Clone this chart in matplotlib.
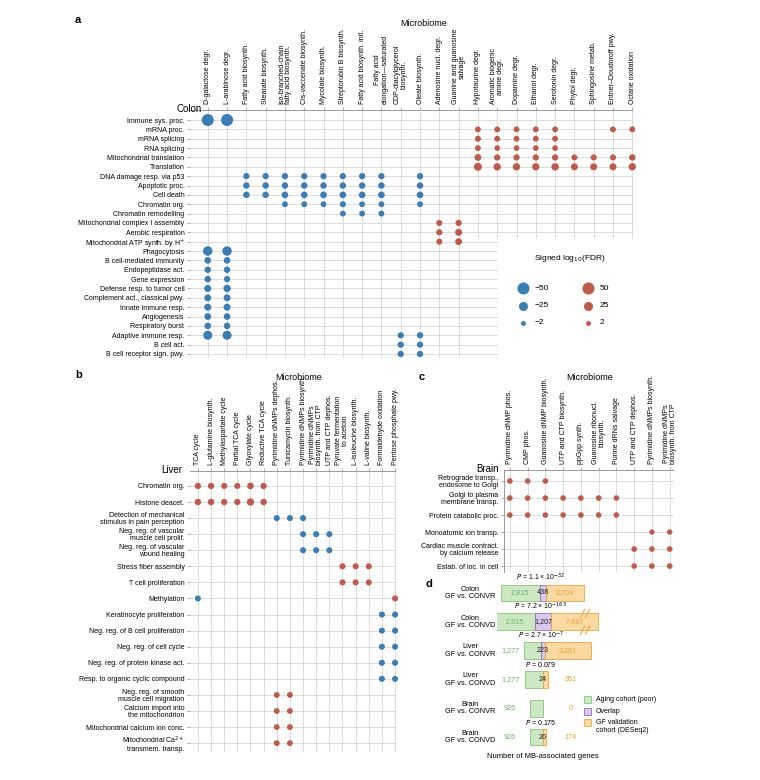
import matplotlib.pyplot as plt
import numpy as np
from matplotlib.patches import Rectangle

plt.rcParams['font.family'] = ['Liberation Sans', 'DejaVu Sans']

W, H = 760, 780
BLUE = '#3b7db5'
RED = '#c05a4b'
GRID = '#d6d6d6'
SPINE = '#8a8a8a'
FS = 5

# ---------------- panel a: colon ----------------
a_cols = ["D-galactose degr.", "L-arabinose degr.", "Fatty acid biosynth.", "Stearate biosynth.",
          "Iso-branched-chain\nfatty acid biosynth.", "Cis-vaccenate biosynth.", "Mycolate biosynth.",
          "Streptorubin B biosynth.", "Fatty acid biosynth. init.", "Fatty acid\nelongation—saturated",
          "CDP-diacylglycerol\nbiosynth.", "Oleate biosynth.", "Adenosine nucl. degr.",
          "Guanine and guanosine\nsalvage", "Hypotaurine degr.", "Aromatic biogenic\namine degr.",
          "Dopamine degr.", "Ethanol degr.", "Serotonin degr.", "Phytol degr.", "Sphingosine metab.",
          "Entner–Doudoroff pwy.", "Octane oxidation"]
a_rows = ["Immune sys. proc.", "mRNA proc.", "mRNA splicing", "RNA splicing", "Mitochondrial translation",
          "Translation", "DNA damage resp. via p53", "Apoptotic proc.", "Cell death", "Chromatin org.",
          "Chromatin remodelling", "Mitochondrial complex I assembly", "Aerobic respiration",
          "Mitochondrial ATP synth. by H$^{+}$", "Phagocytosis", "B cell-mediated immunity",
          "Endopeptidase act.", "Gene expression", "Defense resp. to tumor cell",
          "Complement act., classical pwy.", "Innate immune resp.", "Angiogenesis", "Respiratory burst",
          "Adaptive immune resp.", "B cell act.", "B cell receptor sign. pwy."]
# (row, column indices, signed log10 FDR)
a_dots = [
    ("Immune sys. proc.", [0, 1], [-50, -50]),
    ("mRNA proc.", [14, 15, 16, 17, 18, 21, 22], [6, 6, 6, 6, 6, 6, 6]),
    ("mRNA splicing", [14, 15, 16, 17, 18], [7, 6, 6, 6, 6]),
    ("RNA splicing", [14, 15, 16, 17, 18], [6, 5, 5, 5, 5]),
    ("Mitochondrial translation", [14, 15, 16, 17, 18, 19, 20, 21, 22], [11, 8, 8, 8, 8, 7, 7, 7, 9]),
    ("Translation", [14, 15, 16, 17, 18, 19, 20, 21, 22], [18, 14, 14, 14, 14, 12, 12, 12, 14]),
    ("DNA damage resp. via p53", [2, 3, 4, 5, 6, 7, 8, 9, 11], [-8, -8, -8, -8, -8, -8, -8, -8, -8]),
    ("Apoptotic proc.", [2, 3, 4, 5, 6, 7, 8, 9, 11], [-9, -9, -9, -9, -9, -9, -9, -9, -9]),
    ("Cell death", [2, 3, 4, 5, 6, 7, 8, 9, 11], [-9, -9, -10, -10, -10, -10, -10, -10, -10]),
    ("Chromatin org.", [4, 5, 6, 7, 8, 9, 11], [-6, -6, -6, -7, -6, -6, -6]),
    ("Chromatin remodelling", [7, 8, 9], [-6, -6, -6]),
    ("Mitochondrial complex I assembly", [12, 13], [7, 8]),
    ("Aerobic respiration", [12, 13], [8, 12]),
    ("Mitochondrial ATP synth. by H$^{+}$", [12, 13], [7, 11]),
    ("Phagocytosis", [0, 1], [-28, -28]),
    ("B cell-mediated immunity", [0, 1], [-10, -10]),
    ("Endopeptidase act.", [0, 1], [-9, -9]),
    ("Gene expression", [0, 1], [-9, -8]),
    ("Defense resp. to tumor cell", [0, 1], [-12, -14]),
    ("Complement act., classical pwy.", [0, 1], [-11, -11]),
    ("Innate immune resp.", [0, 1], [-12, -12]),
    ("Angiogenesis", [0, 1], [-11, -10]),
    ("Respiratory burst", [0, 1], [-10, -9]),
    ("Adaptive immune resp.", [0, 1, 10, 11], [-25, -25, -8, -8]),
    ("B cell act.", [10, 11], [-8, -8]),
    ("B cell receptor sign. pwy.", [10, 11], [-8, -8]),
]
legend_vals = [50, 25, 2]

# ---------------- panel b: liver ----------------
b_cols = ["TCA cycle", "L-glutamine biosynth.", "Methylaspartate cycle", "Partial TCA cycle",
          "Glyoxylate cycle", "Reductive TCA cycle", "Pyrimidine dNMPs dephos.", "Tunicamycin biosynth.",
          "Pyrimidine dNMPs biosynth.", "Pyrimidine dNMPs\nbiosynth. from CTP", "UTP and CTP dephos.",
          "Pyruvate fermentation\nto acetoin", "L-isoleucine biosynth.", "L-valine biosynth.",
          "Formaldehyde oxidation", "Pentose phosphate pwy."]
b_rows = ["Chromatin org.", "Histone deacet.", "Detection of mechanical\nstimulus in pain perception",
          "Neg. reg. of vascular\nmuscle cell prolif.", "Neg. reg. of vascular\nwound healing",
          "Stress fiber assembly", "T cell proliferation", "Methylation", "Keratinocyte proliferation",
          "Neg. reg. of B cell proliferation", "Neg. reg. of cell cycle", "Neg. reg. of protein kinase act.",
          "Resp. to organic cyclic compound", "Neg. reg. of smooth\nmuscle cell migration",
          "Calcium import into\nthe mitochondrion", "Mitochondrial calcium ion conc.",
          "Mitochondrial Ca$^{2+}$\ntransmem. transp."]
b_dots = [
    ("Chromatin org.", [0, 1, 2, 3, 4, 5], [8, 8, 7, 7, 10, 8]),
    ("Histone deacet.", [0, 1, 2, 3, 4, 5], [9, 9, 8, 8, 14, 9]),
    ("Detection of mechanical\nstimulus in pain perception", [6, 7, 8], [-7, -7, -7]),
    ("Neg. reg. of vascular\nmuscle cell prolif.", [8, 9, 10], [-7, -7, -7]),
    ("Neg. reg. of vascular\nwound healing", [8, 9, 10], [-7, -7, -7]),
    ("Stress fiber assembly", [11, 12, 13], [7, 7, 7]),
    ("T cell proliferation", [11, 12, 13], [7, 7, 7]),
    ("Methylation", [0, 15], [-7, 7]),
    ("Keratinocyte proliferation", [14, 15], [-7, -7]),
    ("Neg. reg. of B cell proliferation", [14, 15], [-7, -7]),
    ("Neg. reg. of cell cycle", [14, 15], [-7, -7]),
    ("Neg. reg. of protein kinase act.", [14, 15], [-7, -7]),
    ("Resp. to organic cyclic compound", [14, 15], [-7, -7]),
    ("Neg. reg. of smooth\nmuscle cell migration", [6, 7], [6, 6]),
    ("Calcium import into\nthe mitochondrion", [6, 7], [6, 6]),
    ("Mitochondrial calcium ion conc.", [6, 7], [6, 6]),
    ("Mitochondrial Ca$^{2+}$\ntransmem. transp.", [6, 7], [6, 6]),
]

# ---------------- panel c: brain ----------------
c_cols = ["Pyrimidine dNMP phos.", "CMP phos.", "Guanosine dNMP biosynth.", "UTP and CTP biosynth.",
          "ppGpp synth.", "Guanosine ribonucl.\nbiosynth.", "Purine dRNs salvage", "UTP and CTP dephos.",
          "Pyrimidine dNMPs biosynth.", "Pyrimidine dNMPs\nbiosynth. from CTP"]
c_rows = ["Retrograde transp.,\nendosome to Golgi", "Golgi to plasma\nmembrane transp.",
          "Protein catabolic proc.", "Monoatomic ion transp.",
          "Cardiac muscle contract.\nby calcium release", "Estab. of loc. in cell"]
c_dots = [
    ("Retrograde transp.,\nendosome to Golgi", [0, 1, 2], [5, 5, 5]),
    ("Golgi to plasma\nmembrane transp.", [0, 1, 2, 3, 4, 5, 6], [5, 5, 5, 5, 5, 5, 5]),
    ("Protein catabolic proc.", [0, 1, 2, 3, 4, 5, 6], [5, 5, 5, 5, 5, 5, 5]),
    ("Monoatomic ion transp.", [8, 9], [4, 4]),
    ("Cardiac muscle contract.\nby calcium release", [7, 8, 9], [5, 5, 5]),
    ("Estab. of loc. in cell", [7, 8, 9], [5, 5, 5]),
]

# ---------------- panel d: MB-associated genes ----------------
d_tissue = ["Colon", "Colon", "Liver", "Liver", "Brain", "Brain"]
d_comp = ["GF vs. CONVR", "GF vs. CONVD", "GF vs. CONVR", "GF vs. CONVD", "GF vs. CONVR", "GF vs. CONVD"]
d_aging = [2815, 2815, 1277, 1277, 926, 926]
d_overlap = [438, 1207, 223, 24, 0, 20]
d_valid = [2703, 7637, 3281, 351, 0, 174]
d_pval = ["$P$ = 1.1 × 10$^{-32}$", "$P$ = 7.2 × 10$^{-163}$", "$P$ = 2.7 × 10$^{-7}$",
          "$P$ = 0.079", "", "$P$ = 0.175"]
d_break = 3300  # axis break for the long bar


def px_box(x0, y0, x1, y1):
    return [x0 / W, 1 - y1 / H, (x1 - x0) / W, (y1 - y0) / H]


def dot_size(v):
    return 10 + 1.3 * np.abs(np.asarray(v, dtype=float))


def dot_panel(ax, cols, rows, dots, xlim, ylim, grid_right, hcut=None, vcut=None, left_spine=False):
    ax.set_xlim(*xlim)
    ax.set_ylim(*ylim)
    for i in range(len(rows)):
        xe = grid_right
        if hcut is not None and i >= hcut[0]:
            xe = hcut[1]
        ax.plot([xlim[0], xe], [i, i], color=GRID, lw=0.6, zorder=0)
    for j in range(len(cols)):
        yb = ylim[0]
        if vcut is not None and j >= vcut[0]:
            yb = vcut[1]
        ax.plot([j, j], [ylim[1], yb], color=GRID, lw=0.6, zorder=0)
    for name, cc, vv in dots:
        r = rows.index(name)
        colors = [BLUE if v < 0 else RED for v in vv]
        ax.scatter(cc, [r] * len(cc), s=dot_size(vv), c=colors, lw=0, zorder=3, clip_on=False)
    ax.xaxis.tick_top()
    ax.set_xticks(range(len(cols)))
    ax.set_xticklabels(cols, rotation=90, fontsize=FS, va='bottom', ha='center', linespacing=1.0)
    ax.set_yticks(range(len(rows)))
    ax.set_yticklabels(rows, fontsize=FS, linespacing=1.0)
    ax.tick_params(axis='both', length=2.5, width=0.5, color=SPINE, pad=1.5)
    for s in ['right', 'bottom']:
        ax.spines[s].set_visible(False)
    ax.spines['left'].set_visible(left_spine)
    ax.spines['left'].set_color(SPINE)
    ax.spines['left'].set_linewidth(0.6)
    ax.spines['top'].set_color(SPINE)
    ax.spines['top'].set_linewidth(0.6)
    ax.spines['top'].set_bounds(xlim[0], grid_right)
    ax.set_facecolor('none')


fig = plt.figure(figsize=(W / 100, H / 100), dpi=100)

# panel a
axa = fig.add_axes(px_box(190, 110, 640, 358))
dot_panel(axa, a_cols, a_rows, a_dots, (-0.92, 22.4), (25.43, -1.07), 22, hcut=(13, 15), vcut=(14, 12.6))

axl = fig.add_axes(px_box(505, 245, 655, 335))
axl.set_xlim(505, 655)
axl.set_ylim(335, 245)
axl.axis('off')
axl.text(570, 258, "Signed log$_{10}$(FDR)", ha='center', va='center', fontsize=6)
for k, v in enumerate(legend_vals):
    y = 288 + 17.5 * k
    axl.scatter([523], [y], s=dot_size(v), c=BLUE, lw=0, clip_on=False)
    axl.text(535, y, "−%d" % v, ha='left', va='center', fontsize=6)
    axl.scatter([588], [y], s=dot_size(v), c=RED, lw=0, clip_on=False)
    axl.text(600, y, "%d" % v, ha='left', va='center', fontsize=6)

# panel b
axb = fig.add_axes(px_box(190, 471, 399, 752))
dot_panel(axb, b_cols, b_rows, b_dots, (-0.6, 15.3), (16.55, -0.93), 15)

# panel c
axc = fig.add_axes(px_box(504, 470, 675, 572))
dot_panel(axc, c_cols, c_rows, c_dots, (-0.33, 9.3), (5.35, -0.65), 9.2, left_spine=True)

# panel d
GREEN_F, GREEN_E, GREEN_T = '#cbe8c3', '#86c57a', '#6cb863'
PURP_F, PURP_E = '#d9c7ec', '#8f73b5'
ORNG_F, ORNG_E, ORNG_T = '#fdd9a2', '#f0a63c', '#eea033'

axd = fig.add_axes(px_box(497, 578, 665, 750))
axd.set_xlim(-3284, 8711)
axd.set_ylim(5.45, -0.52)
axd.axis('off')
h = 0.58
out_left, out_right, label_x = -2350, 2000, -5200
for i in range(len(d_aging)):
    g, o, v = d_aging[i], d_overlap[i], d_valid[i]
    vs = min(v, d_break)
    axd.barh(i, g, left=-o / 2 - g, height=h, color=GREEN_F, edgecolor=GREEN_E, lw=0.6)
    if o > 0:
        axd.barh(i, o, left=-o / 2, height=h, color=PURP_F, edgecolor=PURP_E, lw=0.6)
        axd.text(0, i, f"{o:,}", ha='center', va='center', fontsize=5.2, color='#222')
    if v > 0:
        axd.barh(i, vs, left=o / 2, height=h, color=ORNG_F, edgecolor=ORNG_E, lw=0.6)
    if g >= 2000:
        axd.text(-o / 2 - g / 2, i, f"{g:,}", ha='center', va='center', fontsize=5.2, color=GREEN_T)
    else:
        axd.text(out_left, i, f"{g:,}", ha='center', va='center', fontsize=5.2, color=GREEN_T)
    if v >= 2000:
        axd.text(o / 2 + vs / 2, i, f"{v:,}", ha='center', va='center', fontsize=5.2, color=ORNG_T)
    else:
        axd.text(out_right, i, f"{v:,}", ha='center', va='center', fontsize=5.2, color=ORNG_T)
    if v > d_break:
        # axis-break marks on the truncated bar
        xb = o / 2 + vs - 900
        for yy in (i - h / 2, i + h / 2):
            axd.plot([xb - 330, xb - 30], [yy + 0.14, yy - 0.14], color=ORNG_E, lw=0.8, clip_on=False)
            axd.plot([xb + 30, xb + 330], [yy + 0.14, yy - 0.14], color=ORNG_E, lw=0.8, clip_on=False)
    if d_pval[i]:
        axd.text(-150, i - h / 2 - 0.06, d_pval[i], ha='center', va='bottom', fontsize=5)
    axd.text(label_x, i, f"{d_tissue[i]}\n{d_comp[i]}", ha='center', va='center',
             fontsize=5.3, clip_on=False, linespacing=1.1)

axdl = fig.add_axes(px_box(580, 693, 680, 740))
axdl.set_xlim(580, 680)
axdl.set_ylim(740, 693)
axdl.axis('off')
for k, (lab, fc, ec) in enumerate([("Aging cohort (poor)", GREEN_F, GREEN_E), ("Overlap", PURP_F, PURP_E),
                                    ("GF validation\ncohort (DESeq2)", ORNG_F, ORNG_E)]):
    y = 700 + 11.5 * k
    axdl.add_patch(Rectangle((584, y - 3.5), 7, 7, facecolor=fc, edgecolor=ec, lw=0.6))
    axdl.text(596, y - 3.5, lab, ha='left', va='top', fontsize=5, linespacing=1.1)

fig.text(543 / W, 1 - 757 / H, "Number of MB-associated genes", ha='center', va='center', fontsize=5.5)

# panel labels and titles
for lab, x, y in [("a", 75, 20), ("b", 75, 375), ("c", 419, 377), ("d", 425, 584)]:
    fig.text(x / W, 1 - y / H, lab, ha='left', va='center', fontsize=8, fontweight='bold')
for x, y in [(424, 24), (299, 377), (590, 377)]:
    fig.text(x / W, 1 - y / H, "Microbiome", ha='center', va='center', fontsize=6.5)
for lab, x, y in [("Colon", 202, 109), ("Liver", 182, 470), ("Brain", 499, 469)]:
    fig.text(x / W, 1 - y / H, lab, ha='right', va='center', fontsize=7)

fig.savefig("out.png", dpi=100)
